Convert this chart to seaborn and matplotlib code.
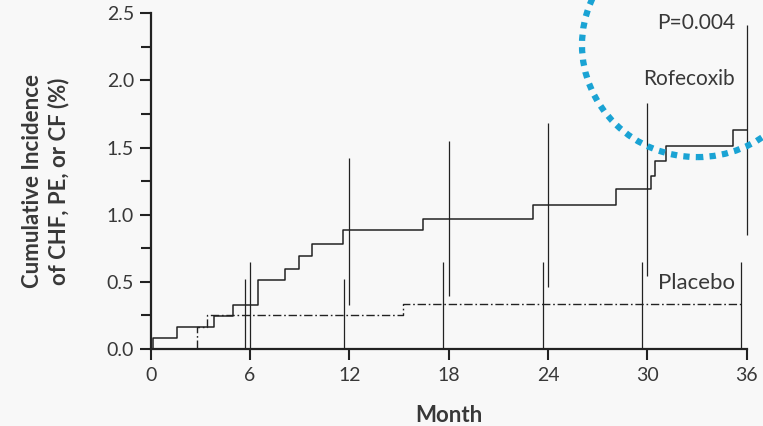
import matplotlib
matplotlib.use("Agg")
import matplotlib.pyplot as plt
from matplotlib.patches import Ellipse
import seaborn as sns
import pandas as pd
import numpy as np

# ---- data ----
rof_months = [0, 0.12, 1.57, 3.82, 4.97, 6.46, 8.09, 8.98, 9.74, 11.6, 16.43,
              23.11, 28.09, 30.2, 30.46, 31.13, 35.19, 36.0]
rof_values = [0, 0.08, 0.16, 0.245, 0.33, 0.51, 0.595, 0.69, 0.78, 0.885, 0.97,
              1.075, 1.195, 1.29, 1.40, 1.515, 1.63, 1.63]
plc_months = [0, 2.78, 3.42, 15.26, 35.7]
plc_values = [0, 0.166, 0.25, 0.333, 0.333]

ci_months = [6, 12, 18, 24, 30, 36]
rof_ci_low = [0.0, 0.33, 0.395, 0.465, 0.54, 0.85]
rof_ci_high = [0.65, 1.425, 1.55, 1.68, 1.83, 2.41]
plc_ci_low = [0.0, 0.0, 0.0, 0.0, 0.0, 0.0]
plc_ci_high = [0.52, 0.52, 0.65, 0.65, 0.65, 0.65]

x_ticks = [0, 6, 12, 18, 24, 30, 36]
y_ticks = [0.0, 0.5, 1.0, 1.5, 2.0, 2.5]
y_tick_labels = ["0.0", "0.5", "1.0", "1.5", "2.0", "2.5"]

# ---- style ----
sns.set_theme(style="ticks")
plt.rcParams['font.family'] = ['Lato', 'DejaVu Sans']
bg = "#f8f8f8"
ink = "#222222"
txt = "#383838"

fig = plt.figure(figsize=(7.63, 4.26), dpi=100, facecolor=bg)
ax = fig.add_axes([0.1975, 0.1808, 0.9787 - 0.1975, 0.9688 - 0.1808])
ax.set_facecolor(bg)

rof_df = pd.DataFrame({"Month": rof_months, "Value": rof_values})
plc_df = pd.DataFrame({"Month": plc_months, "Value": plc_values})

sns.lineplot(data=rof_df, x="Month", y="Value", ax=ax, color=ink, lw=1.1,
             drawstyle="steps-post", estimator=None, sort=False)
ax.lines[-1].set_clip_on(False)
sns.lineplot(data=plc_df, x="Month", y="Value", ax=ax, color=ink, lw=1.0,
             drawstyle="steps-post", estimator=None, sort=False,
             dashes=False)
ax.lines[-1].set_dashes((6, 2, 1.2, 2))

# confidence interval bars
plc_offset = -0.32
ax.vlines(np.array(ci_months, dtype=float), rof_ci_low, rof_ci_high,
          color=ink, lw=0.9, clip_on=False)
ax.vlines(np.array(ci_months, dtype=float) + plc_offset, plc_ci_low, plc_ci_high,
          color=ink, lw=0.9, clip_on=False)

ax.set_xlim(0, 36)
ax.set_ylim(0, 2.5)
ax.set_xticks(x_ticks)
ax.set_yticks(y_ticks)
ax.set_yticklabels(y_tick_labels)
ax.set_yticks([0.25, 0.75, 1.25, 1.75, 2.25], minor=True)
ax.tick_params(axis="both", which="major", direction="out", length=8, width=1.5,
               color=ink, labelsize=14, labelcolor=txt, pad=4)
ax.tick_params(axis="y", which="minor", direction="out", length=7, width=1.5,
               color=ink)
ax.tick_params(axis="x", pad=5)
for s in ["top", "right"]:
    ax.spines[s].set_visible(False)
for s in ["left", "bottom"]:
    ax.spines[s].set_linewidth(1.6)
    ax.spines[s].set_color(ink)

ax.set_xlabel("Month", fontsize=16, fontweight="bold", color=txt, labelpad=15)
ax.set_ylabel("Cumulative Incidence\nof CHF, PE, or CF (%)", fontsize=16,
              fontweight="bold", color=txt, labelpad=27, linespacing=1.25)

# annotations
ax.text(35.3, 2.43, "P=0.004", ha="right", va="center", fontsize=15, color=txt)
ax.text(35.3, 2.01, "Rofecoxib", ha="right", va="center", fontsize=15, color=txt)
ax.text(35.3, 0.49, "Placebo", ha="right", va="center", fontsize=16, color=txt)

# highlight circle
circ = Ellipse((33.0, 2.264), 13.9, 1.67, fill=False, edgecolor="#1aa3d4",
               lw=4.5, linestyle=(0, (1, 1)), clip_on=False, zorder=5)
circ.set_capstyle("butt")
ax.add_patch(circ)

fig.savefig("out.png", dpi=100, facecolor=bg)
